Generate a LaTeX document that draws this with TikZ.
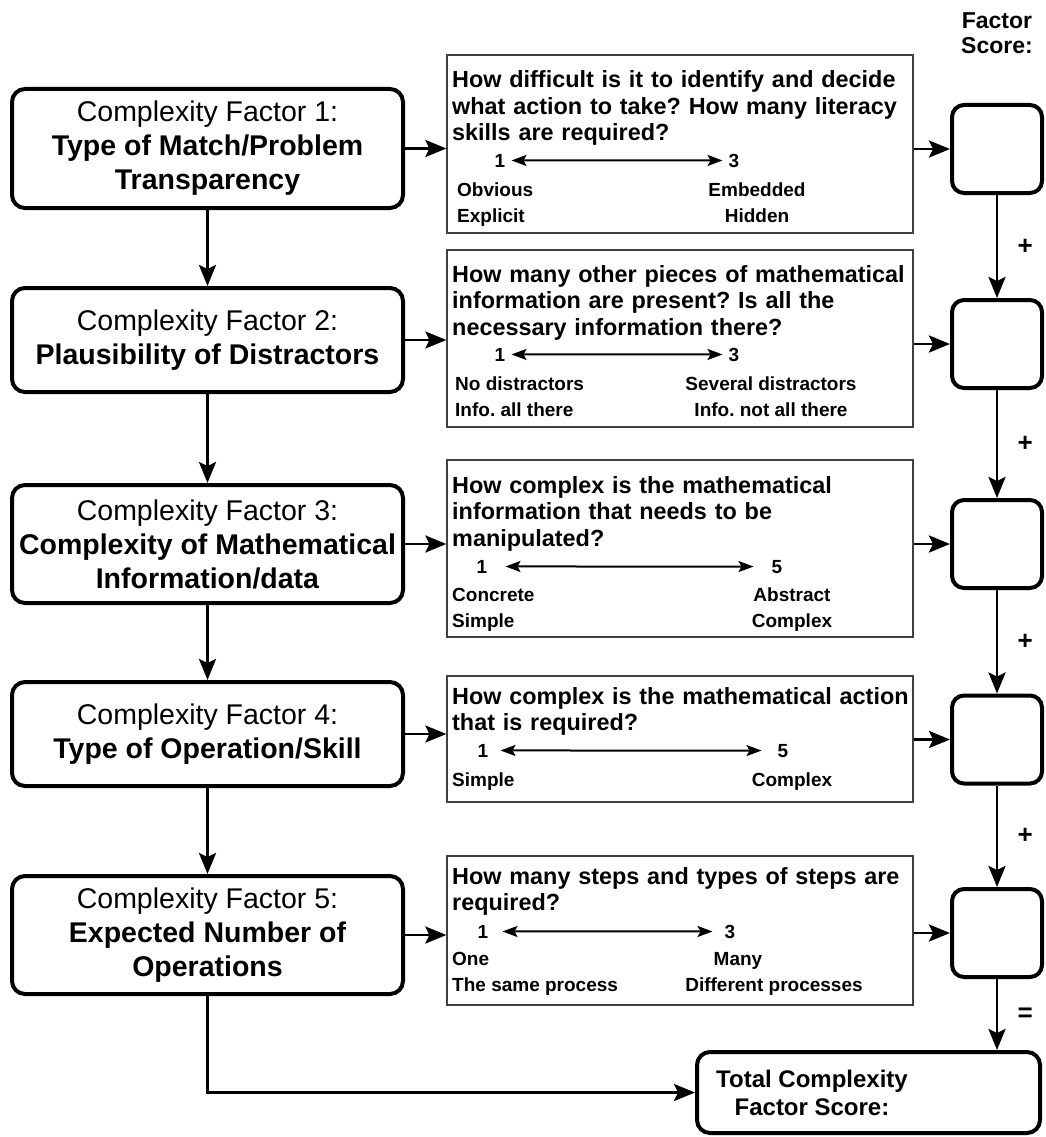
\documentclass[tikz,border=0pt]{standalone}
\usepackage{fontspec}
\setmainfont{Liberation Sans}
\usetikzlibrary{arrows.meta}
\frenchspacing

\newcommand{\cfsize}{\fontsize{28.5}{34}\selectfont}
\newcommand{\qsize}{\fontsize{23.4}{26.5}\selectfont\bfseries}
\newcommand{\lblsize}{\fontsize{19}{22}\selectfont\bfseries}

\begin{document}
\begin{tikzpicture}[x=1pt, y=-1pt,
		factorbox/.style={draw, line width=4pt, rounded corners=13pt, minimum width=391pt, inner xsep=3pt, align=center, font=\cfsize},
		questionbox/.style={draw=black!75, line width=1.3pt, minimum width=466pt, inner sep=0pt},
		scorebox/.style={draw, line width=4pt, rounded corners=12pt, minimum width=90pt, minimum height=88pt},
		totalbox/.style={draw, line width=4pt, rounded corners=13pt, minimum width=343pt, minimum height=81pt},
		qtext/.style={anchor=base west, inner sep=0pt, text width=470pt, align=left, font=\qsize},
		lbl/.style={inner sep=0pt, font=\lblsize},
		num/.style={anchor=base, inner sep=6pt, font=\lblsize},
		flow/.style={line width=2.8pt, -{Stealth[length=21pt, width=17pt, inset=4pt]}},
		scalearrow/.style={line width=2pt, {Stealth[length=15pt, width=11pt, inset=3pt]}-{Stealth[length=15pt, width=11pt, inset=3pt]}},
		plus/.style={right=16pt, font=\fontsize{26}{26}\selectfont\bfseries}]
		\useasboundingbox (0,0) rectangle (1046,1137);

		% complexity factors
		\node[factorbox, minimum height=119pt] (cf1) at (207.5,148.5) {Complexity Factor 1:\\\textbf{Type of Match/Problem}\\\textbf{Transparency}};
		\node[factorbox, minimum height=104pt] (cf2) at (207.5,340) {Complexity Factor 2:\\\textbf{Plausibility of Distractors}};
		\node[factorbox, minimum height=118pt] (cf3) at (207.5,544) {Complexity Factor 3:\\\textbf{Complexity of Mathematical}\\\textbf{Information/data}};
		\node[factorbox, minimum height=104pt] (cf4) at (207.5,734) {Complexity Factor 4:\\\textbf{Type of Operation/Skill}};
		\node[factorbox, minimum height=118pt] (cf5) at (207.5,935) {Complexity Factor 5:\\\textbf{Expected Number of}\\\textbf{Operations}};

		% questions
		\node[questionbox, minimum height=178pt] (q1) at (680,144) {};
		\node[questionbox, minimum height=177pt] (q2) at (680,338.5) {};
		\node[questionbox, minimum height=177pt] (q3) at (680,548.5) {};
		\node[questionbox, minimum height=126pt] (q4) at (680,739) {};
		\node[questionbox, minimum height=149pt] (q5) at (680,930.5) {};

		\node[qtext] (q1t) at (452,88) {How difficult is it to identify and decide\\what action to take? How many literacy\\skills are required?};
		\node[num] (q1lo) at (500,167) {1};
		\node[num] (q1hi) at (734,167) {3};
		\draw[scalearrow] (q1lo) -- (q1hi);
		\node[lbl, anchor=base west] (q1l1) at (457,196) {Obvious};
		\node[lbl, anchor=base west] (q1l2) at (457,222) {Explicit};
		\node[lbl, anchor=base] (q1r1) at (757,196) {Embedded};
		\node[lbl, anchor=base] (q1r2) at (757,222) {Hidden};

		\node[qtext] (q2t) at (452,282) {How many other pieces of mathematical\\information are present? Is all the\\necessary information there?};
		\node[num] (q2lo) at (500,361) {1};
		\node[num] (q2hi) at (734,361) {3};
		\draw[scalearrow] (q2lo) -- (q2hi);
		\node[lbl, anchor=base west] (q2l1) at (455,390) {No distractors};
		\node[lbl, anchor=base west] (q2l2) at (455,416) {Info. all there};
		\node[lbl, anchor=base] (q2r1) at (771,390) {Several distractors};
		\node[lbl, anchor=base] (q2r2) at (771,416) {Info. not all there};

		\node[qtext] (q3t) at (452,493) {How complex is the mathematical\\information that needs to be\\manipulated?};
		\node[num] (q3lo) at (482,573) {1};
		\node[num] (q3hi) at (777,573) {5};
		\draw[scalearrow, shorten <=12pt, shorten >=12pt] (q3lo) -- (q3hi);
		\node[lbl, anchor=base west] (q3l1) at (452,601) {Concrete};
		\node[lbl, anchor=base west] (q3l2) at (452,627) {Simple};
		\node[lbl, anchor=base] (q3r1) at (792,601) {Abstract};
		\node[lbl, anchor=base] (q3r2) at (792,627) {Complex};

		\node[qtext] (q4t) at (452,704) {How complex is the mathematical action\\that is required?};
		\node[num] (q4lo) at (483,757) {1};
		\node[num] (q4hi) at (783,757) {5};
		\draw[scalearrow, shorten <=6pt, shorten >=10pt] (q4lo) -- (q4hi);
		\node[lbl, anchor=base west] (q4l1) at (452,786) {Simple};
		\node[lbl, anchor=base] (q4r1) at (792,786) {Complex};

		\node[qtext] (q5t) at (452,884) {How many steps and types of steps are\\required?};
		\node[num] (q5lo) at (483,938) {1};
		\node[num] (q5hi) at (730,938) {3};
		\draw[scalearrow, shorten <=8pt, shorten >=6pt] (q5lo) -- (q5hi);
		\node[lbl, anchor=base west] (q5l1) at (452,965) {One};
		\node[lbl, anchor=base west] (q5l2) at (452,991) {The same process};
		\node[lbl, anchor=base] (q5r1) at (738,965) {Many};
		\node[lbl, anchor=base] (q5r2) at (774,991) {Different processes};

		% scores
		\node[align=center, font=\fontsize{23}{25}\selectfont\bfseries] (scorehead) at (997,33) {Factor\\Score:};
		\node[scorebox] (s1) at (997,149) {};
		\node[scorebox] (s2) at (997,344) {};
		\node[scorebox] (s3) at (997,544) {};
		\node[scorebox] (s4) at (997,739.5) {};
		\node[scorebox] (s5) at (997,933) {};

		\node[totalbox] (total) at (868.5,1092.5) {};
		\node[align=center, font=\fontsize{24}{28}\selectfont\bfseries] (totallbl) at (812,1093) {Total Complexity\\Factor Score:};

		% connectors
		\draw[flow] (cf1) -- (cf2);
		\draw[flow] (cf2) -- (cf3);
		\draw[flow] (cf3) -- (cf4);
		\draw[flow] (cf4) -- (cf5);
		\draw[flow] (cf5) |- (total);
		\foreach \i in {1,...,5} {
			\draw[flow] (cf\i) -- (cf\i -| q\i.west);
			\draw[flow] (q\i.east |- s\i) -- (s\i);
		}
		\draw[flow] (s1) -- node[plus] {+} (s2);
		\draw[flow] (s2) -- node[plus] {+} (s3);
		\draw[flow] (s3) -- node[plus] {+} (s4);
		\draw[flow] (s4) -- node[plus] {+} (s5);
		\draw[flow] (s5) -- node[plus] {=} (s5 |- total.north);

	\end{tikzpicture}
\end{document}
